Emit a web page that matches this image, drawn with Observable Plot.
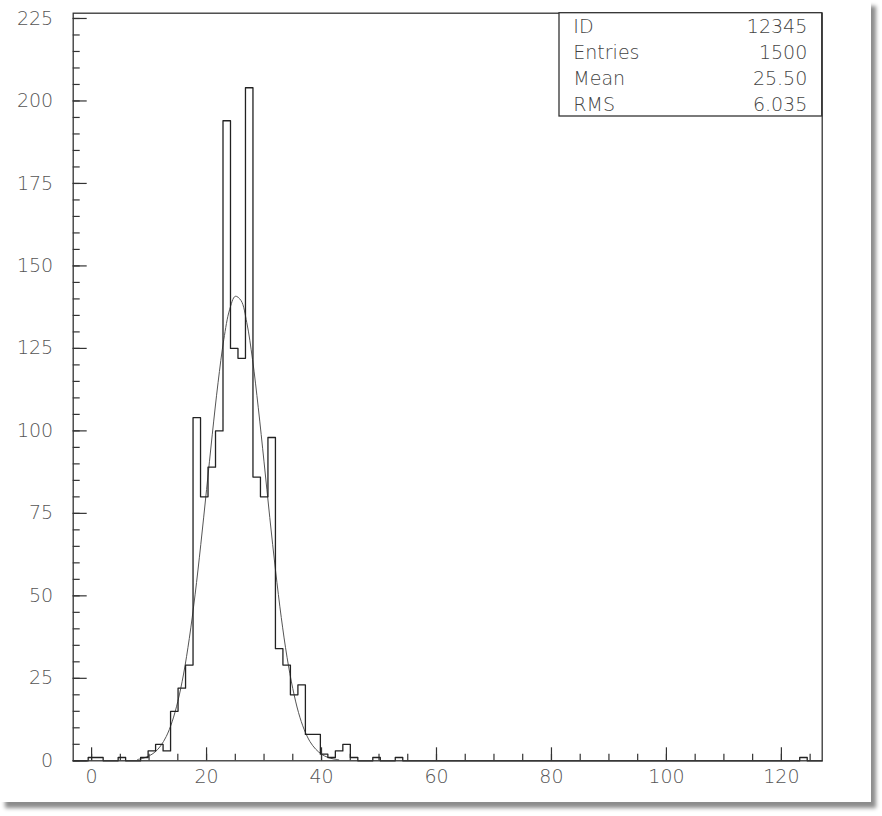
<!DOCTYPE html>
<html><head><meta charset="utf-8">
<script src="https://cdn.jsdelivr.net/npm/d3@7"></script>
<script src="https://cdn.jsdelivr.net/npm/@observablehq/plot@0.6"></script>
<style>
html,body{margin:0;padding:0;background:#fff;}
#card{position:absolute;left:0;top:0;width:871px;height:802px;background:#fff;box-shadow:5px 6px 4px rgba(0,0,0,0.45);}
</style></head><body><div id="card"></div>
<script>
// Histogram: 100 bins spanning the x range
const xMin = -3.2, xMax = 127.1;
const binCounts = [
  0, 0, 1, 1, 0, 0, 1, 0, 0, 1,
  3, 5, 3, 15, 22, 29, 104, 80, 89, 100,
  194, 125, 122, 204, 86, 80, 98, 34, 29, 20,
  23, 8, 8, 2, 1, 3, 5, 1, 0, 0,
  1, 0, 0, 1, 0, 0, 0, 0, 0, 0,
  0, 0, 0, 0, 0, 0, 0, 0, 0, 0,
  0, 0, 0, 0, 0, 0, 0, 0, 0, 0,
  0, 0, 0, 0, 0, 0, 0, 0, 0, 0,
  0, 0, 0, 0, 0, 0, 0, 0, 0, 0,
  0, 0, 0, 0, 0, 0, 0, 1, 0, 0
];
// Fitted curve
const fitX = [8, 9, 10, 11, 12, 13, 14, 15, 16, 17, 18, 19, 20, 21, 22, 23, 24, 25, 26, 27, 28, 29, 30, 31, 32, 33, 34, 35, 36, 37, 38, 39, 40, 41, 42, 43];
const fitY = [0.4, 0.8, 1.5, 2.6, 4.5, 7.4, 11.8, 18.0, 26.3, 37.1, 50.3, 65.6, 82.2, 99.0, 114.6, 127.7, 136.7, 140.8, 139.5, 132.8, 121.6, 107.0, 90.6, 73.7, 57.7, 43.4, 31.4, 21.9, 14.6, 9.4, 5.8, 3.5, 2.0, 1.1, 0.6, 0.3];
// Ticks
const yMajor = [0, 25, 50, 75, 100, 125, 150, 175, 200, 225];
const yMinor = [0,5,10,15,20,25,30,35,40,45,50,55,60,65,70,75,80,85,90,95,100,105,110,115,120,125,130,135,140,145,150,155,160,165,170,175,180,185,190,195,200,205,210,215,220,225];
const xMajor = [0, 20, 40, 60, 80, 100, 120];
const xMinor = [0,5,10,15,20,25,30,35,40,45,50,55,60,65,70,75,80,85,90,95,100,105,110,115,120,125];
// Stats box
const statLabels = ["ID", "Entries", "Mean", "RMS"];
const statValues = ["12345", "1500", "25.50", "6.035"];

const nBins = binCounts.length;
const bw = (xMax - xMin) / nBins;
const stepData = binCounts.map((c, i) => ({x: xMin + i * bw, y: c}));
stepData.push({x: xMax, y: binCounts[nBins - 1]});
const fitData = fitX.map((x, i) => ({x, y: fitY[i]}));

const W = 871, H = 802, mL = 72.7, mT = 12.7, mR = 49.3, mB = 41.7;
const pw = W - mL - mR, ph = H - mT - mB;
const FONT = "DejaVu Sans";
const plot = Plot.plot({
  width: W, height: H,
  marginLeft: mL, marginTop: mT, marginRight: mR, marginBottom: mB,
  x: {domain: [xMin, xMax], label: null},
  y: {domain: [0, 226.6], label: null},
  style: {fontFamily: FONT, fontSize: "19px", background: "transparent", overflow: "visible"},
  marks: [
    // inward tick marks
    Plot.tickY(yMinor, {y: d => d, insetRight: pw - 7, stroke: "#333", strokeWidth: 1.2}),
    Plot.tickY(yMajor, {y: d => d, insetRight: pw - 14, stroke: "#333", strokeWidth: 1.2}),
    Plot.tickX(xMinor, {x: d => d, insetTop: ph - 6.5, stroke: "#333", strokeWidth: 1.2}),
    Plot.tickX(xMajor, {x: d => d, insetTop: ph - 13, stroke: "#333", strokeWidth: 1.2}),
    // tick labels
    Plot.axisY({ticks: yMajor, tickSize: 0, tickPadding: 20, fill: "#555", fontWeight: 200, label: null}),
    Plot.axisX({ticks: xMajor, tickSize: 0, tickPadding: 9, fill: "#555", fontWeight: 200, label: null}),
    Plot.line(fitData, {x: "x", y: "y", curve: "catmull-rom", stroke: "#555", strokeWidth: 1}),
    Plot.line(stepData, {x: "x", y: "y", curve: "step-after", stroke: "#222", strokeWidth: 1.3}),
    Plot.frame({stroke: "#333", strokeWidth: 1.3})
  ]
});

const svg = d3.select(plot);
const boxRight = W - mR, boxTop = mT;
const bx = boxRight - 262.7, bh = 103.3;
svg.append("rect").attr("x", bx).attr("y", boxTop).attr("width", boxRight - bx).attr("height", bh)
  .attr("fill", "white").attr("stroke", "#333").attr("stroke-width", 1.3);
const g = svg.append("g").attr("font-family", FONT).attr("font-size", 19).attr("font-weight", 200).attr("fill", "#444");
statLabels.forEach((lab, i) => {
  const yy = boxTop + 13 + i * 26.2;
  g.append("text").attr("x", bx + 14.3).attr("y", yy).attr("dominant-baseline", "central").attr("text-anchor", "start").text(lab);
  g.append("text").attr("x", boxRight - 14.4).attr("y", yy).attr("dominant-baseline", "central").attr("text-anchor", "end").text(statValues[i]);
});
document.getElementById("card").appendChild(plot);
</script>
</body></html>
